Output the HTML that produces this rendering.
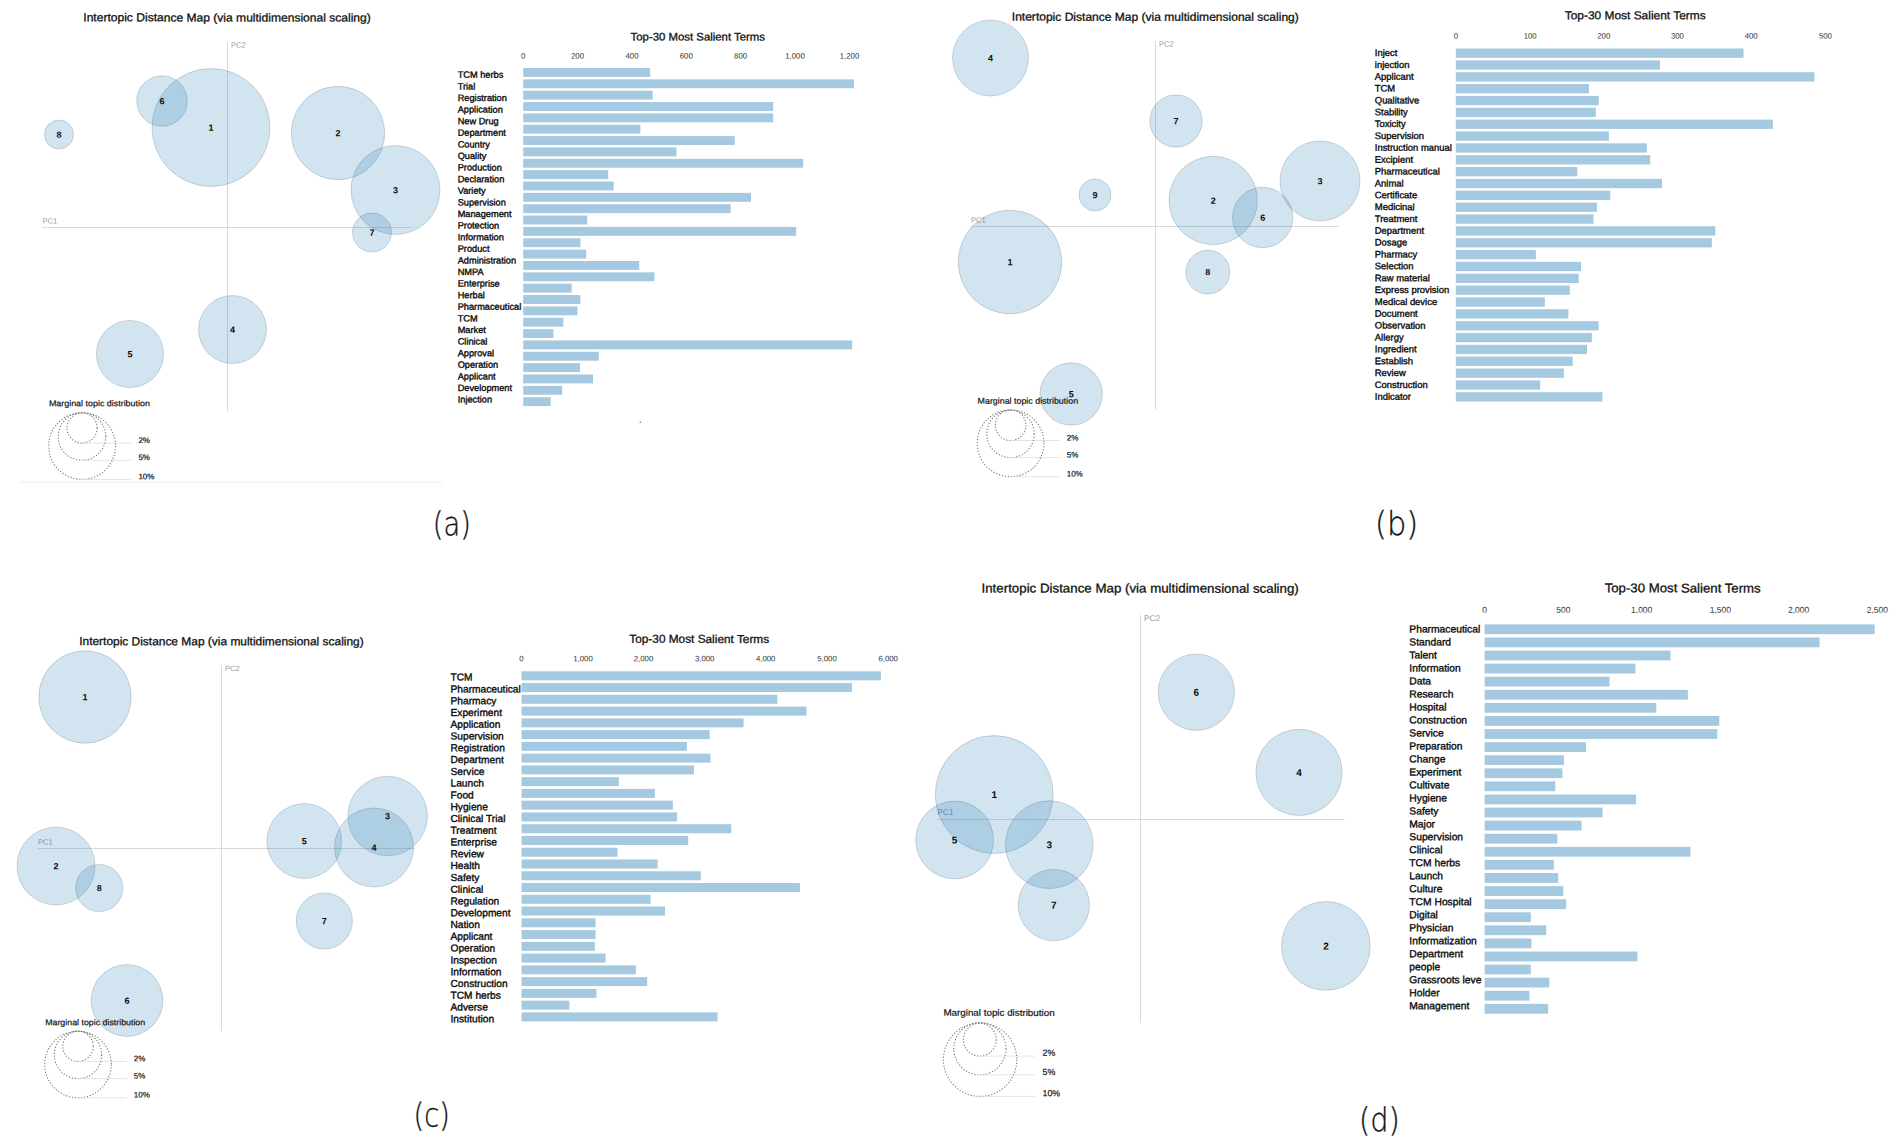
<!DOCTYPE html>
<html lang="en"><head><meta charset="utf-8"><title>Intertopic Distance Maps</title>
<style>
html,body{margin:0;padding:0;background:#fff;}
body{width:1902px;height:1147px;overflow:hidden;}
svg{display:block;font-family:"Liberation Sans",sans-serif;text-rendering:geometricPrecision;}
</style></head><body>
<svg width="1902" height="1147" viewBox="0 0 1902 1147">
<rect width="1902" height="1147" fill="#fff"/>
<g class="map">
<line x1="227.5" y1="42" x2="227.5" y2="411" stroke="#dadada" stroke-width="1"/>
<line x1="42" y1="227.5" x2="412" y2="227.5" stroke="#dadada" stroke-width="1"/>
<text transform="rotate(0.06 231.0 47.5)" x="231.0" y="47.5" font-size="7.6" fill="#9a9a9a">PC2</text>
<text transform="rotate(0.06 42.5 223.5)" x="42.5" y="223.5" font-size="7.6" fill="#9a9a9a">PC1</text>
<circle cx="211.0" cy="127.5" r="59.0" fill="#1f77b4" fill-opacity="0.2" stroke="#123" stroke-opacity="0.17" stroke-width="1"/>
<circle cx="162.0" cy="101.0" r="25.3" fill="#1f77b4" fill-opacity="0.2" stroke="#123" stroke-opacity="0.17" stroke-width="1"/>
<circle cx="59.0" cy="134.5" r="14.5" fill="#1f77b4" fill-opacity="0.2" stroke="#123" stroke-opacity="0.17" stroke-width="1"/>
<circle cx="338.0" cy="133.0" r="46.7" fill="#1f77b4" fill-opacity="0.2" stroke="#123" stroke-opacity="0.17" stroke-width="1"/>
<circle cx="395.5" cy="190.0" r="44.5" fill="#1f77b4" fill-opacity="0.2" stroke="#123" stroke-opacity="0.17" stroke-width="1"/>
<circle cx="372.0" cy="232.5" r="19.5" fill="#1f77b4" fill-opacity="0.2" stroke="#123" stroke-opacity="0.17" stroke-width="1"/>
<circle cx="232.5" cy="329.5" r="34.0" fill="#1f77b4" fill-opacity="0.2" stroke="#123" stroke-opacity="0.17" stroke-width="1"/>
<circle cx="130.0" cy="354.0" r="33.6" fill="#1f77b4" fill-opacity="0.2" stroke="#123" stroke-opacity="0.17" stroke-width="1"/>
<text transform="rotate(0.06 211.0 130.7)" x="211.0" y="130.7" font-size="9.0" text-anchor="middle" font-weight="bold" fill="#0b0b0b">1</text>
<text transform="rotate(0.06 162.0 104.2)" x="162.0" y="104.2" font-size="9.0" text-anchor="middle" font-weight="bold" fill="#0b0b0b">6</text>
<text transform="rotate(0.06 59.0 137.7)" x="59.0" y="137.7" font-size="9.0" text-anchor="middle" font-weight="bold" fill="#0b0b0b">8</text>
<text transform="rotate(0.06 338.0 136.2)" x="338.0" y="136.2" font-size="9.0" text-anchor="middle" font-weight="bold" fill="#0b0b0b">2</text>
<text transform="rotate(0.06 395.5 193.2)" x="395.5" y="193.2" font-size="9.0" text-anchor="middle" font-weight="bold" fill="#0b0b0b">3</text>
<text transform="rotate(0.06 372.0 235.7)" x="372.0" y="235.7" font-size="9.0" text-anchor="middle" font-weight="bold" fill="#0b0b0b">7</text>
<text transform="rotate(0.06 232.5 332.7)" x="232.5" y="332.7" font-size="9.0" text-anchor="middle" font-weight="bold" fill="#0b0b0b">4</text>
<text transform="rotate(0.06 130.0 357.2)" x="130.0" y="357.2" font-size="9.0" text-anchor="middle" font-weight="bold" fill="#0b0b0b">5</text>
<text transform="rotate(0.06 83.3 21.3)" x="83.3" y="21.3" font-size="11.5" textLength="287.5" lengthAdjust="spacingAndGlyphs" fill="#111" stroke="#111" stroke-width="0.3">Intertopic Distance Map (via multidimensional scaling)</text>
<text transform="rotate(0.06 48.9 406.2)" x="48.9" y="406.2" font-size="8.5" textLength="101.0" lengthAdjust="spacingAndGlyphs" fill="#111" stroke="#111" stroke-width="0.2">Marginal topic distribution</text>
<circle cx="82.1" cy="428.0" r="15.1" fill="none" stroke="#808080" stroke-width="1.1" stroke-dasharray="1.3,1.7"/>
<line x1="82.1" y1="443.1" x2="131.4" y2="443.1" stroke="#dcdcdc" stroke-width="0.8"/>
<text transform="rotate(0.06 138.4 442.9)" x="138.4" y="442.9" font-size="8" fill="#111" stroke="#111" stroke-width="0.2">2%</text>
<circle cx="82.0" cy="436.5" r="23.8" fill="none" stroke="#808080" stroke-width="1.1" stroke-dasharray="1.3,1.7"/>
<line x1="82.0" y1="460.3" x2="131.4" y2="460.3" stroke="#dcdcdc" stroke-width="0.8"/>
<text transform="rotate(0.06 138.4 460.1)" x="138.4" y="460.1" font-size="8" fill="#111" stroke="#111" stroke-width="0.2">5%</text>
<circle cx="82.1" cy="446.0" r="33.4" fill="none" stroke="#808080" stroke-width="1.1" stroke-dasharray="1.3,1.7"/>
<line x1="82.1" y1="479.4" x2="131.4" y2="479.4" stroke="#dcdcdc" stroke-width="0.8"/>
<text transform="rotate(0.06 138.4 479.3)" x="138.4" y="479.3" font-size="8" fill="#111" stroke="#111" stroke-width="0.2">10%</text>
</g>
<g class="map">
<line x1="1155.5" y1="41" x2="1155.5" y2="409.5" stroke="#dadada" stroke-width="1"/>
<line x1="970.5" y1="226.5" x2="1339" y2="226.5" stroke="#dadada" stroke-width="1"/>
<text transform="rotate(0.06 1159.0 46.5)" x="1159.0" y="46.5" font-size="7.6" fill="#9a9a9a">PC2</text>
<text transform="rotate(0.06 971.0 222.5)" x="971.0" y="222.5" font-size="7.6" fill="#9a9a9a">PC1</text>
<circle cx="990.5" cy="58.0" r="38.0" fill="#1f77b4" fill-opacity="0.2" stroke="#123" stroke-opacity="0.17" stroke-width="1"/>
<circle cx="1176.0" cy="121.0" r="26.2" fill="#1f77b4" fill-opacity="0.2" stroke="#123" stroke-opacity="0.17" stroke-width="1"/>
<circle cx="1095.0" cy="195.0" r="16.0" fill="#1f77b4" fill-opacity="0.2" stroke="#123" stroke-opacity="0.17" stroke-width="1"/>
<circle cx="1213.2" cy="200.5" r="44.2" fill="#1f77b4" fill-opacity="0.2" stroke="#123" stroke-opacity="0.17" stroke-width="1"/>
<circle cx="1262.7" cy="217.5" r="30.2" fill="#1f77b4" fill-opacity="0.2" stroke="#123" stroke-opacity="0.17" stroke-width="1"/>
<circle cx="1320.0" cy="181.0" r="40.0" fill="#1f77b4" fill-opacity="0.2" stroke="#123" stroke-opacity="0.17" stroke-width="1"/>
<circle cx="1010.0" cy="262.0" r="51.8" fill="#1f77b4" fill-opacity="0.2" stroke="#123" stroke-opacity="0.17" stroke-width="1"/>
<circle cx="1207.8" cy="272.1" r="22.0" fill="#1f77b4" fill-opacity="0.2" stroke="#123" stroke-opacity="0.17" stroke-width="1"/>
<circle cx="1071.2" cy="394.0" r="31.2" fill="#1f77b4" fill-opacity="0.2" stroke="#123" stroke-opacity="0.17" stroke-width="1"/>
<text transform="rotate(0.06 990.5 61.2)" x="990.5" y="61.2" font-size="9.0" text-anchor="middle" font-weight="bold" fill="#0b0b0b">4</text>
<text transform="rotate(0.06 1176.0 124.2)" x="1176.0" y="124.2" font-size="9.0" text-anchor="middle" font-weight="bold" fill="#0b0b0b">7</text>
<text transform="rotate(0.06 1095.0 198.2)" x="1095.0" y="198.2" font-size="9.0" text-anchor="middle" font-weight="bold" fill="#0b0b0b">9</text>
<text transform="rotate(0.06 1213.2 203.7)" x="1213.2" y="203.7" font-size="9.0" text-anchor="middle" font-weight="bold" fill="#0b0b0b">2</text>
<text transform="rotate(0.06 1262.7 220.7)" x="1262.7" y="220.7" font-size="9.0" text-anchor="middle" font-weight="bold" fill="#0b0b0b">6</text>
<text transform="rotate(0.06 1320.0 184.2)" x="1320.0" y="184.2" font-size="9.0" text-anchor="middle" font-weight="bold" fill="#0b0b0b">3</text>
<text transform="rotate(0.06 1010.0 265.2)" x="1010.0" y="265.2" font-size="9.0" text-anchor="middle" font-weight="bold" fill="#0b0b0b">1</text>
<text transform="rotate(0.06 1207.8 275.3)" x="1207.8" y="275.3" font-size="9.0" text-anchor="middle" font-weight="bold" fill="#0b0b0b">8</text>
<text transform="rotate(0.06 1071.2 397.2)" x="1071.2" y="397.2" font-size="9.0" text-anchor="middle" font-weight="bold" fill="#0b0b0b">5</text>
<text transform="rotate(0.06 1011.8 20.6)" x="1011.8" y="20.6" font-size="11.5" textLength="287.0" lengthAdjust="spacingAndGlyphs" fill="#111" stroke="#111" stroke-width="0.3">Intertopic Distance Map (via multidimensional scaling)</text>
<text transform="rotate(0.06 977.6 403.7)" x="977.6" y="403.7" font-size="8.5" textLength="100.5" lengthAdjust="spacingAndGlyphs" fill="#111" stroke="#111" stroke-width="0.2">Marginal topic distribution</text>
<circle cx="1010.6" cy="425.2" r="15.3" fill="none" stroke="#808080" stroke-width="1.1" stroke-dasharray="1.3,1.7"/>
<line x1="1010.6" y1="440.5" x2="1059.9" y2="440.5" stroke="#dcdcdc" stroke-width="0.8"/>
<text transform="rotate(0.06 1066.7 440.4)" x="1066.7" y="440.4" font-size="8" fill="#111" stroke="#111" stroke-width="0.2">2%</text>
<circle cx="1010.5" cy="433.9" r="23.7" fill="none" stroke="#808080" stroke-width="1.1" stroke-dasharray="1.3,1.7"/>
<line x1="1010.5" y1="457.6" x2="1059.9" y2="457.6" stroke="#dcdcdc" stroke-width="0.8"/>
<text transform="rotate(0.06 1066.7 457.5)" x="1066.7" y="457.5" font-size="8" fill="#111" stroke="#111" stroke-width="0.2">5%</text>
<circle cx="1010.6" cy="443.3" r="33.4" fill="none" stroke="#808080" stroke-width="1.1" stroke-dasharray="1.3,1.7"/>
<line x1="1010.6" y1="476.7" x2="1059.9" y2="476.7" stroke="#dcdcdc" stroke-width="0.8"/>
<text transform="rotate(0.06 1066.7 476.5)" x="1066.7" y="476.5" font-size="8" fill="#111" stroke="#111" stroke-width="0.2">10%</text>
</g>
<g class="map">
<line x1="221.5" y1="665.5" x2="221.5" y2="1030.8" stroke="#dadada" stroke-width="1"/>
<line x1="37.5" y1="848.5" x2="415" y2="848.5" stroke="#dadada" stroke-width="1"/>
<text transform="rotate(0.06 225.0 671.0)" x="225.0" y="671.0" font-size="7.6" fill="#9a9a9a">PC2</text>
<text transform="rotate(0.06 38.0 844.5)" x="38.0" y="844.5" font-size="7.6" fill="#9a9a9a">PC1</text>
<circle cx="85.0" cy="697.0" r="46.2" fill="#1f77b4" fill-opacity="0.2" stroke="#123" stroke-opacity="0.17" stroke-width="1"/>
<circle cx="56.0" cy="866.0" r="39.0" fill="#1f77b4" fill-opacity="0.2" stroke="#123" stroke-opacity="0.17" stroke-width="1"/>
<circle cx="99.3" cy="888.0" r="23.6" fill="#1f77b4" fill-opacity="0.2" stroke="#123" stroke-opacity="0.17" stroke-width="1"/>
<circle cx="304.3" cy="841.0" r="37.4" fill="#1f77b4" fill-opacity="0.2" stroke="#123" stroke-opacity="0.17" stroke-width="1"/>
<circle cx="387.6" cy="816.0" r="39.8" fill="#1f77b4" fill-opacity="0.2" stroke="#123" stroke-opacity="0.17" stroke-width="1"/>
<circle cx="374.0" cy="847.5" r="39.5" fill="#1f77b4" fill-opacity="0.2" stroke="#123" stroke-opacity="0.17" stroke-width="1"/>
<circle cx="324.3" cy="921.0" r="28.1" fill="#1f77b4" fill-opacity="0.2" stroke="#123" stroke-opacity="0.17" stroke-width="1"/>
<circle cx="127.0" cy="1000.5" r="35.9" fill="#1f77b4" fill-opacity="0.2" stroke="#123" stroke-opacity="0.17" stroke-width="1"/>
<text transform="rotate(0.06 85.0 700.2)" x="85.0" y="700.2" font-size="9.0" text-anchor="middle" font-weight="bold" fill="#0b0b0b">1</text>
<text transform="rotate(0.06 56.0 869.2)" x="56.0" y="869.2" font-size="9.0" text-anchor="middle" font-weight="bold" fill="#0b0b0b">2</text>
<text transform="rotate(0.06 99.3 891.2)" x="99.3" y="891.2" font-size="9.0" text-anchor="middle" font-weight="bold" fill="#0b0b0b">8</text>
<text transform="rotate(0.06 304.3 844.2)" x="304.3" y="844.2" font-size="9.0" text-anchor="middle" font-weight="bold" fill="#0b0b0b">5</text>
<text transform="rotate(0.06 387.6 819.2)" x="387.6" y="819.2" font-size="9.0" text-anchor="middle" font-weight="bold" fill="#0b0b0b">3</text>
<text transform="rotate(0.06 374.0 850.7)" x="374.0" y="850.7" font-size="9.0" text-anchor="middle" font-weight="bold" fill="#0b0b0b">4</text>
<text transform="rotate(0.06 324.3 924.2)" x="324.3" y="924.2" font-size="9.0" text-anchor="middle" font-weight="bold" fill="#0b0b0b">7</text>
<text transform="rotate(0.06 127.0 1003.7)" x="127.0" y="1003.7" font-size="9.0" text-anchor="middle" font-weight="bold" fill="#0b0b0b">6</text>
<text transform="rotate(0.06 79.2 645.1)" x="79.2" y="645.1" font-size="11.5" textLength="284.5" lengthAdjust="spacingAndGlyphs" fill="#111" stroke="#111" stroke-width="0.3">Intertopic Distance Map (via multidimensional scaling)</text>
<text transform="rotate(0.06 45.2 1025.2)" x="45.2" y="1025.2" font-size="8.5" textLength="100.0" lengthAdjust="spacingAndGlyphs" fill="#111" stroke="#111" stroke-width="0.2">Marginal topic distribution</text>
<circle cx="78.0" cy="1046.3" r="15.2" fill="none" stroke="#808080" stroke-width="1.1" stroke-dasharray="1.3,1.7"/>
<line x1="78.0" y1="1061.5" x2="126.7" y2="1061.5" stroke="#dcdcdc" stroke-width="0.8"/>
<text transform="rotate(0.06 133.8 1061.2)" x="133.8" y="1061.2" font-size="8" fill="#111" stroke="#111" stroke-width="0.2">2%</text>
<circle cx="78.0" cy="1054.9" r="23.7" fill="none" stroke="#808080" stroke-width="1.1" stroke-dasharray="1.3,1.7"/>
<line x1="78.0" y1="1078.6" x2="126.7" y2="1078.6" stroke="#dcdcdc" stroke-width="0.8"/>
<text transform="rotate(0.06 133.8 1078.4)" x="133.8" y="1078.4" font-size="8" fill="#111" stroke="#111" stroke-width="0.2">5%</text>
<circle cx="78.0" cy="1064.5" r="33.3" fill="none" stroke="#808080" stroke-width="1.1" stroke-dasharray="1.3,1.7"/>
<line x1="78.0" y1="1097.8" x2="126.7" y2="1097.8" stroke="#dcdcdc" stroke-width="0.8"/>
<text transform="rotate(0.06 133.8 1097.6)" x="133.8" y="1097.6" font-size="8" fill="#111" stroke="#111" stroke-width="0.2">10%</text>
</g>
<g class="map">
<line x1="1140.5" y1="615" x2="1140.5" y2="1022.7" stroke="#dadada" stroke-width="1"/>
<line x1="936.8" y1="819.5" x2="1344.3" y2="819.5" stroke="#dadada" stroke-width="1"/>
<text transform="rotate(0.06 1144.0 621.0)" x="1144.0" y="621.0" font-size="8.36" fill="#9a9a9a">PC2</text>
<text transform="rotate(0.06 937.3 815.1)" x="937.3" y="815.1" font-size="8.36" fill="#9a9a9a">PC1</text>
<circle cx="1196.3" cy="692.2" r="38.2" fill="#1f77b4" fill-opacity="0.2" stroke="#123" stroke-opacity="0.17" stroke-width="1"/>
<circle cx="1299.0" cy="772.4" r="43.1" fill="#1f77b4" fill-opacity="0.2" stroke="#123" stroke-opacity="0.17" stroke-width="1"/>
<circle cx="994.2" cy="794.5" r="58.9" fill="#1f77b4" fill-opacity="0.2" stroke="#123" stroke-opacity="0.17" stroke-width="1"/>
<circle cx="954.6" cy="840.0" r="38.9" fill="#1f77b4" fill-opacity="0.2" stroke="#123" stroke-opacity="0.17" stroke-width="1"/>
<circle cx="1049.3" cy="844.7" r="43.9" fill="#1f77b4" fill-opacity="0.2" stroke="#123" stroke-opacity="0.17" stroke-width="1"/>
<circle cx="1053.8" cy="905.1" r="35.7" fill="#1f77b4" fill-opacity="0.2" stroke="#123" stroke-opacity="0.17" stroke-width="1"/>
<circle cx="1325.9" cy="945.9" r="44.4" fill="#1f77b4" fill-opacity="0.2" stroke="#123" stroke-opacity="0.17" stroke-width="1"/>
<text transform="rotate(0.06 1196.3 695.7)" x="1196.3" y="695.7" font-size="9.9" text-anchor="middle" font-weight="bold" fill="#0b0b0b">6</text>
<text transform="rotate(0.06 1299.0 775.9)" x="1299.0" y="775.9" font-size="9.9" text-anchor="middle" font-weight="bold" fill="#0b0b0b">4</text>
<text transform="rotate(0.06 994.2 798.0)" x="994.2" y="798.0" font-size="9.9" text-anchor="middle" font-weight="bold" fill="#0b0b0b">1</text>
<text transform="rotate(0.06 954.6 843.5)" x="954.6" y="843.5" font-size="9.9" text-anchor="middle" font-weight="bold" fill="#0b0b0b">5</text>
<text transform="rotate(0.06 1049.3 848.2)" x="1049.3" y="848.2" font-size="9.9" text-anchor="middle" font-weight="bold" fill="#0b0b0b">3</text>
<text transform="rotate(0.06 1053.8 908.6)" x="1053.8" y="908.6" font-size="9.9" text-anchor="middle" font-weight="bold" fill="#0b0b0b">7</text>
<text transform="rotate(0.06 1325.9 949.4)" x="1325.9" y="949.4" font-size="9.9" text-anchor="middle" font-weight="bold" fill="#0b0b0b">2</text>
<text transform="rotate(0.06 981.5 592.4)" x="981.5" y="592.4" font-size="12.7" textLength="317.3" lengthAdjust="spacingAndGlyphs" fill="#111" stroke="#111" stroke-width="0.3">Intertopic Distance Map (via multidimensional scaling)</text>
<text transform="rotate(0.06 943.4 1015.8)" x="943.4" y="1015.8" font-size="9.3" textLength="111.2" lengthAdjust="spacingAndGlyphs" fill="#111" stroke="#111" stroke-width="0.2">Marginal topic distribution</text>
<circle cx="979.8" cy="1039.7" r="16.4" fill="none" stroke="#808080" stroke-width="1.1" stroke-dasharray="1.3,1.7"/>
<line x1="979.8" y1="1056.1" x2="1034.6" y2="1056.1" stroke="#dcdcdc" stroke-width="0.8"/>
<text transform="rotate(0.06 1042.5 1055.8)" x="1042.5" y="1055.8" font-size="8.8" fill="#111" stroke="#111" stroke-width="0.2">2%</text>
<circle cx="979.9" cy="1048.7" r="26.1" fill="none" stroke="#808080" stroke-width="1.1" stroke-dasharray="1.3,1.7"/>
<line x1="979.9" y1="1074.8" x2="1034.6" y2="1074.8" stroke="#dcdcdc" stroke-width="0.8"/>
<text transform="rotate(0.06 1042.5 1075.0)" x="1042.5" y="1075.0" font-size="8.8" fill="#111" stroke="#111" stroke-width="0.2">5%</text>
<circle cx="980.1" cy="1059.7" r="36.7" fill="none" stroke="#808080" stroke-width="1.1" stroke-dasharray="1.3,1.7"/>
<line x1="980.1" y1="1096.4" x2="1034.6" y2="1096.4" stroke="#dcdcdc" stroke-width="0.8"/>
<text transform="rotate(0.06 1042.5 1096.2)" x="1042.5" y="1096.2" font-size="8.8" fill="#111" stroke="#111" stroke-width="0.2">10%</text>
</g>
<g class="bars">
<rect x="523.2" y="68.00" width="127.0" height="8.9" fill="#1f77b4" fill-opacity="0.4"/>
<rect x="523.2" y="79.35" width="330.8" height="8.9" fill="#1f77b4" fill-opacity="0.4"/>
<rect x="523.2" y="90.70" width="129.5" height="8.9" fill="#1f77b4" fill-opacity="0.4"/>
<rect x="523.2" y="102.06" width="250.0" height="8.9" fill="#1f77b4" fill-opacity="0.4"/>
<rect x="523.2" y="113.41" width="250.0" height="8.9" fill="#1f77b4" fill-opacity="0.4"/>
<rect x="523.2" y="124.76" width="117.2" height="8.9" fill="#1f77b4" fill-opacity="0.4"/>
<rect x="523.2" y="136.11" width="211.5" height="8.9" fill="#1f77b4" fill-opacity="0.4"/>
<rect x="523.2" y="147.46" width="153.2" height="8.9" fill="#1f77b4" fill-opacity="0.4"/>
<rect x="523.2" y="158.82" width="280.0" height="8.9" fill="#1f77b4" fill-opacity="0.4"/>
<rect x="523.2" y="170.17" width="85.0" height="8.9" fill="#1f77b4" fill-opacity="0.4"/>
<rect x="523.2" y="181.52" width="90.5" height="8.9" fill="#1f77b4" fill-opacity="0.4"/>
<rect x="523.2" y="192.87" width="227.8" height="8.9" fill="#1f77b4" fill-opacity="0.4"/>
<rect x="523.2" y="204.22" width="207.5" height="8.9" fill="#1f77b4" fill-opacity="0.4"/>
<rect x="523.2" y="215.58" width="64.0" height="8.9" fill="#1f77b4" fill-opacity="0.4"/>
<rect x="523.2" y="226.93" width="273.0" height="8.9" fill="#1f77b4" fill-opacity="0.4"/>
<rect x="523.2" y="238.28" width="57.2" height="8.9" fill="#1f77b4" fill-opacity="0.4"/>
<rect x="523.2" y="249.63" width="63.0" height="8.9" fill="#1f77b4" fill-opacity="0.4"/>
<rect x="523.2" y="260.98" width="116.0" height="8.9" fill="#1f77b4" fill-opacity="0.4"/>
<rect x="523.2" y="272.34" width="131.2" height="8.9" fill="#1f77b4" fill-opacity="0.4"/>
<rect x="523.2" y="283.69" width="48.5" height="8.9" fill="#1f77b4" fill-opacity="0.4"/>
<rect x="523.2" y="295.04" width="57.2" height="8.9" fill="#1f77b4" fill-opacity="0.4"/>
<rect x="523.2" y="306.39" width="54.2" height="8.9" fill="#1f77b4" fill-opacity="0.4"/>
<rect x="523.2" y="317.74" width="40.2" height="8.9" fill="#1f77b4" fill-opacity="0.4"/>
<rect x="523.2" y="329.10" width="30.2" height="8.9" fill="#1f77b4" fill-opacity="0.4"/>
<rect x="523.2" y="340.45" width="329.0" height="8.9" fill="#1f77b4" fill-opacity="0.4"/>
<rect x="523.2" y="351.80" width="75.5" height="8.9" fill="#1f77b4" fill-opacity="0.4"/>
<rect x="523.2" y="363.15" width="56.8" height="8.9" fill="#1f77b4" fill-opacity="0.4"/>
<rect x="523.2" y="374.50" width="69.8" height="8.9" fill="#1f77b4" fill-opacity="0.4"/>
<rect x="523.2" y="385.86" width="39.0" height="8.9" fill="#1f77b4" fill-opacity="0.4"/>
<rect x="523.2" y="397.21" width="27.5" height="8.9" fill="#1f77b4" fill-opacity="0.4"/>
<text transform="rotate(0.06 457.7 77.8)" x="457.7" y="77.8" font-size="9.2225" fill="#0a0a0a" stroke="#0a0a0a" stroke-width="0.35">TCM herbs</text>
<text transform="rotate(0.06 457.7 89.4)" x="457.7" y="89.4" font-size="9.2225" fill="#0a0a0a" stroke="#0a0a0a" stroke-width="0.35">Trial</text>
<text transform="rotate(0.06 457.7 101.0)" x="457.7" y="101.0" font-size="9.2225" fill="#0a0a0a" stroke="#0a0a0a" stroke-width="0.35">Registration</text>
<text transform="rotate(0.06 457.7 112.6)" x="457.7" y="112.6" font-size="9.2225" fill="#0a0a0a" stroke="#0a0a0a" stroke-width="0.35">Application</text>
<text transform="rotate(0.06 457.7 124.2)" x="457.7" y="124.2" font-size="9.2225" fill="#0a0a0a" stroke="#0a0a0a" stroke-width="0.35">New Drug</text>
<text transform="rotate(0.06 457.7 135.8)" x="457.7" y="135.8" font-size="9.2225" fill="#0a0a0a" stroke="#0a0a0a" stroke-width="0.35">Department</text>
<text transform="rotate(0.06 457.7 147.4)" x="457.7" y="147.4" font-size="9.2225" fill="#0a0a0a" stroke="#0a0a0a" stroke-width="0.35">Country</text>
<text transform="rotate(0.06 457.7 159.0)" x="457.7" y="159.0" font-size="9.2225" fill="#0a0a0a" stroke="#0a0a0a" stroke-width="0.35">Quality</text>
<text transform="rotate(0.06 457.7 170.6)" x="457.7" y="170.6" font-size="9.2225" fill="#0a0a0a" stroke="#0a0a0a" stroke-width="0.35">Production</text>
<text transform="rotate(0.06 457.7 182.2)" x="457.7" y="182.2" font-size="9.2225" fill="#0a0a0a" stroke="#0a0a0a" stroke-width="0.35">Declaration</text>
<text transform="rotate(0.06 457.7 193.8)" x="457.7" y="193.8" font-size="9.2225" fill="#0a0a0a" stroke="#0a0a0a" stroke-width="0.35">Variety</text>
<text transform="rotate(0.06 457.7 205.4)" x="457.7" y="205.4" font-size="9.2225" fill="#0a0a0a" stroke="#0a0a0a" stroke-width="0.35">Supervision</text>
<text transform="rotate(0.06 457.7 217.0)" x="457.7" y="217.0" font-size="9.2225" fill="#0a0a0a" stroke="#0a0a0a" stroke-width="0.35">Management</text>
<text transform="rotate(0.06 457.7 228.6)" x="457.7" y="228.6" font-size="9.2225" fill="#0a0a0a" stroke="#0a0a0a" stroke-width="0.35">Protection</text>
<text transform="rotate(0.06 457.7 240.2)" x="457.7" y="240.2" font-size="9.2225" fill="#0a0a0a" stroke="#0a0a0a" stroke-width="0.35">Information</text>
<text transform="rotate(0.06 457.7 251.8)" x="457.7" y="251.8" font-size="9.2225" fill="#0a0a0a" stroke="#0a0a0a" stroke-width="0.35">Product</text>
<text transform="rotate(0.06 457.7 263.4)" x="457.7" y="263.4" font-size="9.2225" fill="#0a0a0a" stroke="#0a0a0a" stroke-width="0.35">Administration</text>
<text transform="rotate(0.06 457.7 275.0)" x="457.7" y="275.0" font-size="9.2225" fill="#0a0a0a" stroke="#0a0a0a" stroke-width="0.35">NMPA</text>
<text transform="rotate(0.06 457.7 286.6)" x="457.7" y="286.6" font-size="9.2225" fill="#0a0a0a" stroke="#0a0a0a" stroke-width="0.35">Enterprise</text>
<text transform="rotate(0.06 457.7 298.2)" x="457.7" y="298.2" font-size="9.2225" fill="#0a0a0a" stroke="#0a0a0a" stroke-width="0.35">Herbal</text>
<text transform="rotate(0.06 457.7 309.8)" x="457.7" y="309.8" font-size="9.2225" fill="#0a0a0a" stroke="#0a0a0a" stroke-width="0.35">Pharmaceutical</text>
<text transform="rotate(0.06 457.7 321.4)" x="457.7" y="321.4" font-size="9.2225" fill="#0a0a0a" stroke="#0a0a0a" stroke-width="0.35">TCM</text>
<text transform="rotate(0.06 457.7 333.0)" x="457.7" y="333.0" font-size="9.2225" fill="#0a0a0a" stroke="#0a0a0a" stroke-width="0.35">Market</text>
<text transform="rotate(0.06 457.7 344.6)" x="457.7" y="344.6" font-size="9.2225" fill="#0a0a0a" stroke="#0a0a0a" stroke-width="0.35">Clinical</text>
<text transform="rotate(0.06 457.7 356.2)" x="457.7" y="356.2" font-size="9.2225" fill="#0a0a0a" stroke="#0a0a0a" stroke-width="0.35">Approval</text>
<text transform="rotate(0.06 457.7 367.8)" x="457.7" y="367.8" font-size="9.2225" fill="#0a0a0a" stroke="#0a0a0a" stroke-width="0.35">Operation</text>
<text transform="rotate(0.06 457.7 379.4)" x="457.7" y="379.4" font-size="9.2225" fill="#0a0a0a" stroke="#0a0a0a" stroke-width="0.35">Applicant</text>
<text transform="rotate(0.06 457.7 391.0)" x="457.7" y="391.0" font-size="9.2225" fill="#0a0a0a" stroke="#0a0a0a" stroke-width="0.35">Development</text>
<text transform="rotate(0.06 457.7 402.6)" x="457.7" y="402.6" font-size="9.2225" fill="#0a0a0a" stroke="#0a0a0a" stroke-width="0.35">Injection</text>
<text transform="rotate(0.06 523.2 58.4)" x="523.2" y="58.4" font-size="7.8" text-anchor="middle" fill="#333">0</text>
<text transform="rotate(0.06 577.5 58.4)" x="577.5" y="58.4" font-size="7.8" text-anchor="middle" fill="#333">200</text>
<text transform="rotate(0.06 632.0 58.4)" x="632.0" y="58.4" font-size="7.8" text-anchor="middle" fill="#333">400</text>
<text transform="rotate(0.06 686.3 58.4)" x="686.3" y="58.4" font-size="7.8" text-anchor="middle" fill="#333">600</text>
<text transform="rotate(0.06 740.6 58.4)" x="740.6" y="58.4" font-size="7.8" text-anchor="middle" fill="#333">800</text>
<text transform="rotate(0.06 795.0 58.4)" x="795.0" y="58.4" font-size="7.8" text-anchor="middle" fill="#333">1,000</text>
<text transform="rotate(0.06 849.5 58.4)" x="849.5" y="58.4" font-size="7.8" text-anchor="middle" fill="#333">1,200</text>
<text transform="rotate(0.06 630.6 40.4)" x="630.6" y="40.4" font-size="11" textLength="134.4" lengthAdjust="spacingAndGlyphs" fill="#111" stroke="#111" stroke-width="0.3">Top-30 Most Salient Terms</text>
</g>
<g class="bars">
<rect x="1455.8" y="48.50" width="287.7" height="9.3" fill="#1f77b4" fill-opacity="0.4"/>
<rect x="1455.8" y="60.35" width="204.2" height="9.3" fill="#1f77b4" fill-opacity="0.4"/>
<rect x="1455.8" y="72.20" width="358.7" height="9.3" fill="#1f77b4" fill-opacity="0.4"/>
<rect x="1455.8" y="84.06" width="133.2" height="9.3" fill="#1f77b4" fill-opacity="0.4"/>
<rect x="1455.8" y="95.91" width="142.9" height="9.3" fill="#1f77b4" fill-opacity="0.4"/>
<rect x="1455.8" y="107.76" width="140.0" height="9.3" fill="#1f77b4" fill-opacity="0.4"/>
<rect x="1455.8" y="119.61" width="317.1" height="9.3" fill="#1f77b4" fill-opacity="0.4"/>
<rect x="1455.8" y="131.46" width="153.1" height="9.3" fill="#1f77b4" fill-opacity="0.4"/>
<rect x="1455.8" y="143.32" width="191.0" height="9.3" fill="#1f77b4" fill-opacity="0.4"/>
<rect x="1455.8" y="155.17" width="194.5" height="9.3" fill="#1f77b4" fill-opacity="0.4"/>
<rect x="1455.8" y="167.02" width="121.5" height="9.3" fill="#1f77b4" fill-opacity="0.4"/>
<rect x="1455.8" y="178.87" width="206.2" height="9.3" fill="#1f77b4" fill-opacity="0.4"/>
<rect x="1455.8" y="190.72" width="154.5" height="9.3" fill="#1f77b4" fill-opacity="0.4"/>
<rect x="1455.8" y="202.58" width="141.1" height="9.3" fill="#1f77b4" fill-opacity="0.4"/>
<rect x="1455.8" y="214.43" width="137.7" height="9.3" fill="#1f77b4" fill-opacity="0.4"/>
<rect x="1455.8" y="226.28" width="259.5" height="9.3" fill="#1f77b4" fill-opacity="0.4"/>
<rect x="1455.8" y="238.13" width="256.0" height="9.3" fill="#1f77b4" fill-opacity="0.4"/>
<rect x="1455.8" y="249.98" width="80.1" height="9.3" fill="#1f77b4" fill-opacity="0.4"/>
<rect x="1455.8" y="261.84" width="125.2" height="9.3" fill="#1f77b4" fill-opacity="0.4"/>
<rect x="1455.8" y="273.69" width="122.9" height="9.3" fill="#1f77b4" fill-opacity="0.4"/>
<rect x="1455.8" y="285.54" width="114.0" height="9.3" fill="#1f77b4" fill-opacity="0.4"/>
<rect x="1455.8" y="297.39" width="89.0" height="9.3" fill="#1f77b4" fill-opacity="0.4"/>
<rect x="1455.8" y="309.24" width="112.6" height="9.3" fill="#1f77b4" fill-opacity="0.4"/>
<rect x="1455.8" y="321.10" width="142.9" height="9.3" fill="#1f77b4" fill-opacity="0.4"/>
<rect x="1455.8" y="332.95" width="136.0" height="9.3" fill="#1f77b4" fill-opacity="0.4"/>
<rect x="1455.8" y="344.80" width="131.2" height="9.3" fill="#1f77b4" fill-opacity="0.4"/>
<rect x="1455.8" y="356.65" width="116.9" height="9.3" fill="#1f77b4" fill-opacity="0.4"/>
<rect x="1455.8" y="368.50" width="108.1" height="9.3" fill="#1f77b4" fill-opacity="0.4"/>
<rect x="1455.8" y="380.36" width="84.4" height="9.3" fill="#1f77b4" fill-opacity="0.4"/>
<rect x="1455.8" y="392.21" width="146.6" height="9.3" fill="#1f77b4" fill-opacity="0.4"/>
<text transform="rotate(0.06 1374.8 56.0)" x="1374.8" y="56.0" font-size="9.439499999999999" fill="#0a0a0a" stroke="#0a0a0a" stroke-width="0.35">Inject</text>
<text transform="rotate(0.06 1374.8 67.9)" x="1374.8" y="67.9" font-size="9.439499999999999" fill="#0a0a0a" stroke="#0a0a0a" stroke-width="0.35">injection</text>
<text transform="rotate(0.06 1374.8 79.7)" x="1374.8" y="79.7" font-size="9.439499999999999" fill="#0a0a0a" stroke="#0a0a0a" stroke-width="0.35">Applicant</text>
<text transform="rotate(0.06 1374.8 91.6)" x="1374.8" y="91.6" font-size="9.439499999999999" fill="#0a0a0a" stroke="#0a0a0a" stroke-width="0.35">TCM</text>
<text transform="rotate(0.06 1374.8 103.4)" x="1374.8" y="103.4" font-size="9.439499999999999" fill="#0a0a0a" stroke="#0a0a0a" stroke-width="0.35">Qualitative</text>
<text transform="rotate(0.06 1374.8 115.3)" x="1374.8" y="115.3" font-size="9.439499999999999" fill="#0a0a0a" stroke="#0a0a0a" stroke-width="0.35">Stability</text>
<text transform="rotate(0.06 1374.8 127.1)" x="1374.8" y="127.1" font-size="9.439499999999999" fill="#0a0a0a" stroke="#0a0a0a" stroke-width="0.35">Toxicity</text>
<text transform="rotate(0.06 1374.8 139.0)" x="1374.8" y="139.0" font-size="9.439499999999999" fill="#0a0a0a" stroke="#0a0a0a" stroke-width="0.35">Supervision</text>
<text transform="rotate(0.06 1374.8 150.8)" x="1374.8" y="150.8" font-size="9.439499999999999" fill="#0a0a0a" stroke="#0a0a0a" stroke-width="0.35">Instruction manual</text>
<text transform="rotate(0.06 1374.8 162.7)" x="1374.8" y="162.7" font-size="9.439499999999999" fill="#0a0a0a" stroke="#0a0a0a" stroke-width="0.35">Excipient</text>
<text transform="rotate(0.06 1374.8 174.5)" x="1374.8" y="174.5" font-size="9.439499999999999" fill="#0a0a0a" stroke="#0a0a0a" stroke-width="0.35">Pharmaceutical</text>
<text transform="rotate(0.06 1374.8 186.4)" x="1374.8" y="186.4" font-size="9.439499999999999" fill="#0a0a0a" stroke="#0a0a0a" stroke-width="0.35">Animal</text>
<text transform="rotate(0.06 1374.8 198.2)" x="1374.8" y="198.2" font-size="9.439499999999999" fill="#0a0a0a" stroke="#0a0a0a" stroke-width="0.35">Certificate</text>
<text transform="rotate(0.06 1374.8 210.1)" x="1374.8" y="210.1" font-size="9.439499999999999" fill="#0a0a0a" stroke="#0a0a0a" stroke-width="0.35">Medicinal</text>
<text transform="rotate(0.06 1374.8 221.9)" x="1374.8" y="221.9" font-size="9.439499999999999" fill="#0a0a0a" stroke="#0a0a0a" stroke-width="0.35">Treatment</text>
<text transform="rotate(0.06 1374.8 233.8)" x="1374.8" y="233.8" font-size="9.439499999999999" fill="#0a0a0a" stroke="#0a0a0a" stroke-width="0.35">Department</text>
<text transform="rotate(0.06 1374.8 245.6)" x="1374.8" y="245.6" font-size="9.439499999999999" fill="#0a0a0a" stroke="#0a0a0a" stroke-width="0.35">Dosage</text>
<text transform="rotate(0.06 1374.8 257.5)" x="1374.8" y="257.5" font-size="9.439499999999999" fill="#0a0a0a" stroke="#0a0a0a" stroke-width="0.35">Pharmacy</text>
<text transform="rotate(0.06 1374.8 269.3)" x="1374.8" y="269.3" font-size="9.439499999999999" fill="#0a0a0a" stroke="#0a0a0a" stroke-width="0.35">Selection</text>
<text transform="rotate(0.06 1374.8 281.2)" x="1374.8" y="281.2" font-size="9.439499999999999" fill="#0a0a0a" stroke="#0a0a0a" stroke-width="0.35">Raw material</text>
<text transform="rotate(0.06 1374.8 293.0)" x="1374.8" y="293.0" font-size="9.439499999999999" fill="#0a0a0a" stroke="#0a0a0a" stroke-width="0.35">Express provision</text>
<text transform="rotate(0.06 1374.8 304.9)" x="1374.8" y="304.9" font-size="9.439499999999999" fill="#0a0a0a" stroke="#0a0a0a" stroke-width="0.35">Medical device</text>
<text transform="rotate(0.06 1374.8 316.7)" x="1374.8" y="316.7" font-size="9.439499999999999" fill="#0a0a0a" stroke="#0a0a0a" stroke-width="0.35">Document</text>
<text transform="rotate(0.06 1374.8 328.6)" x="1374.8" y="328.6" font-size="9.439499999999999" fill="#0a0a0a" stroke="#0a0a0a" stroke-width="0.35">Observation</text>
<text transform="rotate(0.06 1374.8 340.4)" x="1374.8" y="340.4" font-size="9.439499999999999" fill="#0a0a0a" stroke="#0a0a0a" stroke-width="0.35">Allergy</text>
<text transform="rotate(0.06 1374.8 352.3)" x="1374.8" y="352.3" font-size="9.439499999999999" fill="#0a0a0a" stroke="#0a0a0a" stroke-width="0.35">Ingredient</text>
<text transform="rotate(0.06 1374.8 364.2)" x="1374.8" y="364.2" font-size="9.439499999999999" fill="#0a0a0a" stroke="#0a0a0a" stroke-width="0.35">Establish</text>
<text transform="rotate(0.06 1374.8 376.0)" x="1374.8" y="376.0" font-size="9.439499999999999" fill="#0a0a0a" stroke="#0a0a0a" stroke-width="0.35">Review</text>
<text transform="rotate(0.06 1374.8 387.9)" x="1374.8" y="387.9" font-size="9.439499999999999" fill="#0a0a0a" stroke="#0a0a0a" stroke-width="0.35">Construction</text>
<text transform="rotate(0.06 1374.8 399.7)" x="1374.8" y="399.7" font-size="9.439499999999999" fill="#0a0a0a" stroke="#0a0a0a" stroke-width="0.35">Indicator</text>
<text transform="rotate(0.06 1455.8 38.4)" x="1455.8" y="38.4" font-size="7.8" text-anchor="middle" fill="#333">0</text>
<text transform="rotate(0.06 1530.2 38.4)" x="1530.2" y="38.4" font-size="7.8" text-anchor="middle" fill="#333">100</text>
<text transform="rotate(0.06 1603.8 38.4)" x="1603.8" y="38.4" font-size="7.8" text-anchor="middle" fill="#333">200</text>
<text transform="rotate(0.06 1677.4 38.4)" x="1677.4" y="38.4" font-size="7.8" text-anchor="middle" fill="#333">300</text>
<text transform="rotate(0.06 1751.2 38.4)" x="1751.2" y="38.4" font-size="7.8" text-anchor="middle" fill="#333">400</text>
<text transform="rotate(0.06 1825.4 38.4)" x="1825.4" y="38.4" font-size="7.8" text-anchor="middle" fill="#333">500</text>
<text transform="rotate(0.06 1564.7 19.2)" x="1564.7" y="19.2" font-size="11.5" textLength="141.0" lengthAdjust="spacingAndGlyphs" fill="#111" stroke="#111" stroke-width="0.3">Top-30 Most Salient Terms</text>
</g>
<g class="bars">
<rect x="521.5" y="671.30" width="359.4" height="9" fill="#1f77b4" fill-opacity="0.4"/>
<rect x="521.5" y="683.06" width="330.4" height="9" fill="#1f77b4" fill-opacity="0.4"/>
<rect x="521.5" y="694.82" width="255.8" height="9" fill="#1f77b4" fill-opacity="0.4"/>
<rect x="521.5" y="706.59" width="285.0" height="9" fill="#1f77b4" fill-opacity="0.4"/>
<rect x="521.5" y="718.35" width="222.1" height="9" fill="#1f77b4" fill-opacity="0.4"/>
<rect x="521.5" y="730.11" width="188.2" height="9" fill="#1f77b4" fill-opacity="0.4"/>
<rect x="521.5" y="741.87" width="165.4" height="9" fill="#1f77b4" fill-opacity="0.4"/>
<rect x="521.5" y="753.63" width="189.0" height="9" fill="#1f77b4" fill-opacity="0.4"/>
<rect x="521.5" y="765.40" width="172.5" height="9" fill="#1f77b4" fill-opacity="0.4"/>
<rect x="521.5" y="777.16" width="97.3" height="9" fill="#1f77b4" fill-opacity="0.4"/>
<rect x="521.5" y="788.92" width="133.3" height="9" fill="#1f77b4" fill-opacity="0.4"/>
<rect x="521.5" y="800.68" width="151.4" height="9" fill="#1f77b4" fill-opacity="0.4"/>
<rect x="521.5" y="812.44" width="155.6" height="9" fill="#1f77b4" fill-opacity="0.4"/>
<rect x="521.5" y="824.21" width="209.8" height="9" fill="#1f77b4" fill-opacity="0.4"/>
<rect x="521.5" y="835.97" width="166.7" height="9" fill="#1f77b4" fill-opacity="0.4"/>
<rect x="521.5" y="847.73" width="96.0" height="9" fill="#1f77b4" fill-opacity="0.4"/>
<rect x="521.5" y="859.49" width="136.2" height="9" fill="#1f77b4" fill-opacity="0.4"/>
<rect x="521.5" y="871.25" width="179.3" height="9" fill="#1f77b4" fill-opacity="0.4"/>
<rect x="521.5" y="883.02" width="278.4" height="9" fill="#1f77b4" fill-opacity="0.4"/>
<rect x="521.5" y="894.78" width="129.1" height="9" fill="#1f77b4" fill-opacity="0.4"/>
<rect x="521.5" y="906.54" width="143.5" height="9" fill="#1f77b4" fill-opacity="0.4"/>
<rect x="521.5" y="918.30" width="74.1" height="9" fill="#1f77b4" fill-opacity="0.4"/>
<rect x="521.5" y="930.06" width="74.1" height="9" fill="#1f77b4" fill-opacity="0.4"/>
<rect x="521.5" y="941.83" width="73.3" height="9" fill="#1f77b4" fill-opacity="0.4"/>
<rect x="521.5" y="953.59" width="84.1" height="9" fill="#1f77b4" fill-opacity="0.4"/>
<rect x="521.5" y="965.35" width="114.4" height="9" fill="#1f77b4" fill-opacity="0.4"/>
<rect x="521.5" y="977.11" width="125.7" height="9" fill="#1f77b4" fill-opacity="0.4"/>
<rect x="521.5" y="988.87" width="74.9" height="9" fill="#1f77b4" fill-opacity="0.4"/>
<rect x="521.5" y="1000.64" width="47.8" height="9" fill="#1f77b4" fill-opacity="0.4"/>
<rect x="521.5" y="1012.40" width="196.1" height="9" fill="#1f77b4" fill-opacity="0.4"/>
<text transform="rotate(0.06 450.5 680.6)" x="450.5" y="680.6" font-size="10.199" fill="#0a0a0a" stroke="#0a0a0a" stroke-width="0.35">TCM</text>
<text transform="rotate(0.06 450.5 692.4)" x="450.5" y="692.4" font-size="10.199" fill="#0a0a0a" stroke="#0a0a0a" stroke-width="0.35">Pharmaceutical</text>
<text transform="rotate(0.06 450.5 704.2)" x="450.5" y="704.2" font-size="10.199" fill="#0a0a0a" stroke="#0a0a0a" stroke-width="0.35">Pharmacy</text>
<text transform="rotate(0.06 450.5 715.9)" x="450.5" y="715.9" font-size="10.199" fill="#0a0a0a" stroke="#0a0a0a" stroke-width="0.35">Experiment</text>
<text transform="rotate(0.06 450.5 727.7)" x="450.5" y="727.7" font-size="10.199" fill="#0a0a0a" stroke="#0a0a0a" stroke-width="0.35">Application</text>
<text transform="rotate(0.06 450.5 739.5)" x="450.5" y="739.5" font-size="10.199" fill="#0a0a0a" stroke="#0a0a0a" stroke-width="0.35">Supervision</text>
<text transform="rotate(0.06 450.5 751.3)" x="450.5" y="751.3" font-size="10.199" fill="#0a0a0a" stroke="#0a0a0a" stroke-width="0.35">Registration</text>
<text transform="rotate(0.06 450.5 763.1)" x="450.5" y="763.1" font-size="10.199" fill="#0a0a0a" stroke="#0a0a0a" stroke-width="0.35">Department</text>
<text transform="rotate(0.06 450.5 774.9)" x="450.5" y="774.9" font-size="10.199" fill="#0a0a0a" stroke="#0a0a0a" stroke-width="0.35">Service</text>
<text transform="rotate(0.06 450.5 786.6)" x="450.5" y="786.6" font-size="10.199" fill="#0a0a0a" stroke="#0a0a0a" stroke-width="0.35">Launch</text>
<text transform="rotate(0.06 450.5 798.4)" x="450.5" y="798.4" font-size="10.199" fill="#0a0a0a" stroke="#0a0a0a" stroke-width="0.35">Food</text>
<text transform="rotate(0.06 450.5 810.2)" x="450.5" y="810.2" font-size="10.199" fill="#0a0a0a" stroke="#0a0a0a" stroke-width="0.35">Hygiene</text>
<text transform="rotate(0.06 450.5 822.0)" x="450.5" y="822.0" font-size="10.199" fill="#0a0a0a" stroke="#0a0a0a" stroke-width="0.35">Clinical Trial</text>
<text transform="rotate(0.06 450.5 833.8)" x="450.5" y="833.8" font-size="10.199" fill="#0a0a0a" stroke="#0a0a0a" stroke-width="0.35">Treatment</text>
<text transform="rotate(0.06 450.5 845.5)" x="450.5" y="845.5" font-size="10.199" fill="#0a0a0a" stroke="#0a0a0a" stroke-width="0.35">Enterprise</text>
<text transform="rotate(0.06 450.5 857.3)" x="450.5" y="857.3" font-size="10.199" fill="#0a0a0a" stroke="#0a0a0a" stroke-width="0.35">Review</text>
<text transform="rotate(0.06 450.5 869.1)" x="450.5" y="869.1" font-size="10.199" fill="#0a0a0a" stroke="#0a0a0a" stroke-width="0.35">Health</text>
<text transform="rotate(0.06 450.5 880.9)" x="450.5" y="880.9" font-size="10.199" fill="#0a0a0a" stroke="#0a0a0a" stroke-width="0.35">Safety</text>
<text transform="rotate(0.06 450.5 892.7)" x="450.5" y="892.7" font-size="10.199" fill="#0a0a0a" stroke="#0a0a0a" stroke-width="0.35">Clinical</text>
<text transform="rotate(0.06 450.5 904.5)" x="450.5" y="904.5" font-size="10.199" fill="#0a0a0a" stroke="#0a0a0a" stroke-width="0.35">Regulation</text>
<text transform="rotate(0.06 450.5 916.2)" x="450.5" y="916.2" font-size="10.199" fill="#0a0a0a" stroke="#0a0a0a" stroke-width="0.35">Development</text>
<text transform="rotate(0.06 450.5 928.0)" x="450.5" y="928.0" font-size="10.199" fill="#0a0a0a" stroke="#0a0a0a" stroke-width="0.35">Nation</text>
<text transform="rotate(0.06 450.5 939.8)" x="450.5" y="939.8" font-size="10.199" fill="#0a0a0a" stroke="#0a0a0a" stroke-width="0.35">Applicant</text>
<text transform="rotate(0.06 450.5 951.6)" x="450.5" y="951.6" font-size="10.199" fill="#0a0a0a" stroke="#0a0a0a" stroke-width="0.35">Operation</text>
<text transform="rotate(0.06 450.5 963.4)" x="450.5" y="963.4" font-size="10.199" fill="#0a0a0a" stroke="#0a0a0a" stroke-width="0.35">Inspection</text>
<text transform="rotate(0.06 450.5 975.2)" x="450.5" y="975.2" font-size="10.199" fill="#0a0a0a" stroke="#0a0a0a" stroke-width="0.35">Information</text>
<text transform="rotate(0.06 450.5 986.9)" x="450.5" y="986.9" font-size="10.199" fill="#0a0a0a" stroke="#0a0a0a" stroke-width="0.35">Construction</text>
<text transform="rotate(0.06 450.5 998.7)" x="450.5" y="998.7" font-size="10.199" fill="#0a0a0a" stroke="#0a0a0a" stroke-width="0.35">TCM herbs</text>
<text transform="rotate(0.06 450.5 1010.5)" x="450.5" y="1010.5" font-size="10.199" fill="#0a0a0a" stroke="#0a0a0a" stroke-width="0.35">Adverse</text>
<text transform="rotate(0.06 450.5 1022.3)" x="450.5" y="1022.3" font-size="10.199" fill="#0a0a0a" stroke="#0a0a0a" stroke-width="0.35">Institution</text>
<text transform="rotate(0.06 521.5 661.2)" x="521.5" y="661.2" font-size="7.8" text-anchor="middle" fill="#333">0</text>
<text transform="rotate(0.06 583.0 661.2)" x="583.0" y="661.2" font-size="7.8" text-anchor="middle" fill="#333">1,000</text>
<text transform="rotate(0.06 643.5 661.2)" x="643.5" y="661.2" font-size="7.8" text-anchor="middle" fill="#333">2,000</text>
<text transform="rotate(0.06 704.7 661.2)" x="704.7" y="661.2" font-size="7.8" text-anchor="middle" fill="#333">3,000</text>
<text transform="rotate(0.06 765.7 661.2)" x="765.7" y="661.2" font-size="7.8" text-anchor="middle" fill="#333">4,000</text>
<text transform="rotate(0.06 827.0 661.2)" x="827.0" y="661.2" font-size="7.8" text-anchor="middle" fill="#333">5,000</text>
<text transform="rotate(0.06 888.2 661.2)" x="888.2" y="661.2" font-size="7.8" text-anchor="middle" fill="#333">6,000</text>
<text transform="rotate(0.06 629.3 642.8)" x="629.3" y="642.8" font-size="11.5" textLength="139.8" lengthAdjust="spacingAndGlyphs" fill="#111" stroke="#111" stroke-width="0.3">Top-30 Most Salient Terms</text>
</g>
<g class="bars">
<rect x="1484.6" y="624.40" width="390.1" height="9.8" fill="#1f77b4" fill-opacity="0.4"/>
<rect x="1484.6" y="637.49" width="335.0" height="9.8" fill="#1f77b4" fill-opacity="0.4"/>
<rect x="1484.6" y="650.57" width="185.9" height="9.8" fill="#1f77b4" fill-opacity="0.4"/>
<rect x="1484.6" y="663.66" width="150.8" height="9.8" fill="#1f77b4" fill-opacity="0.4"/>
<rect x="1484.6" y="676.74" width="124.9" height="9.8" fill="#1f77b4" fill-opacity="0.4"/>
<rect x="1484.6" y="689.83" width="203.3" height="9.8" fill="#1f77b4" fill-opacity="0.4"/>
<rect x="1484.6" y="702.92" width="171.7" height="9.8" fill="#1f77b4" fill-opacity="0.4"/>
<rect x="1484.6" y="716.00" width="234.7" height="9.8" fill="#1f77b4" fill-opacity="0.4"/>
<rect x="1484.6" y="729.09" width="232.7" height="9.8" fill="#1f77b4" fill-opacity="0.4"/>
<rect x="1484.6" y="742.17" width="101.5" height="9.8" fill="#1f77b4" fill-opacity="0.4"/>
<rect x="1484.6" y="755.26" width="79.3" height="9.8" fill="#1f77b4" fill-opacity="0.4"/>
<rect x="1484.6" y="768.35" width="77.8" height="9.8" fill="#1f77b4" fill-opacity="0.4"/>
<rect x="1484.6" y="781.43" width="70.7" height="9.8" fill="#1f77b4" fill-opacity="0.4"/>
<rect x="1484.6" y="794.52" width="151.4" height="9.8" fill="#1f77b4" fill-opacity="0.4"/>
<rect x="1484.6" y="807.60" width="118.0" height="9.8" fill="#1f77b4" fill-opacity="0.4"/>
<rect x="1484.6" y="820.69" width="96.9" height="9.8" fill="#1f77b4" fill-opacity="0.4"/>
<rect x="1484.6" y="833.78" width="72.7" height="9.8" fill="#1f77b4" fill-opacity="0.4"/>
<rect x="1484.6" y="846.86" width="205.9" height="9.8" fill="#1f77b4" fill-opacity="0.4"/>
<rect x="1484.6" y="859.95" width="69.3" height="9.8" fill="#1f77b4" fill-opacity="0.4"/>
<rect x="1484.6" y="873.03" width="73.6" height="9.8" fill="#1f77b4" fill-opacity="0.4"/>
<rect x="1484.6" y="886.12" width="78.7" height="9.8" fill="#1f77b4" fill-opacity="0.4"/>
<rect x="1484.6" y="899.21" width="81.6" height="9.8" fill="#1f77b4" fill-opacity="0.4"/>
<rect x="1484.6" y="912.29" width="46.2" height="9.8" fill="#1f77b4" fill-opacity="0.4"/>
<rect x="1484.6" y="925.38" width="61.6" height="9.8" fill="#1f77b4" fill-opacity="0.4"/>
<rect x="1484.6" y="938.46" width="46.8" height="9.8" fill="#1f77b4" fill-opacity="0.4"/>
<rect x="1484.6" y="951.55" width="152.8" height="9.8" fill="#1f77b4" fill-opacity="0.4"/>
<rect x="1484.6" y="964.64" width="46.2" height="9.8" fill="#1f77b4" fill-opacity="0.4"/>
<rect x="1484.6" y="977.72" width="64.7" height="9.8" fill="#1f77b4" fill-opacity="0.4"/>
<rect x="1484.6" y="990.81" width="44.8" height="9.8" fill="#1f77b4" fill-opacity="0.4"/>
<rect x="1484.6" y="1003.89" width="63.6" height="9.8" fill="#1f77b4" fill-opacity="0.4"/>
<text transform="rotate(0.06 1409.3 632.5)" x="1409.3" y="632.5" font-size="10.3075" fill="#0a0a0a" stroke="#0a0a0a" stroke-width="0.35">Pharmaceutical</text>
<text transform="rotate(0.06 1409.3 645.5)" x="1409.3" y="645.5" font-size="10.3075" fill="#0a0a0a" stroke="#0a0a0a" stroke-width="0.35">Standard</text>
<text transform="rotate(0.06 1409.3 658.5)" x="1409.3" y="658.5" font-size="10.3075" fill="#0a0a0a" stroke="#0a0a0a" stroke-width="0.35">Talent</text>
<text transform="rotate(0.06 1409.3 671.5)" x="1409.3" y="671.5" font-size="10.3075" fill="#0a0a0a" stroke="#0a0a0a" stroke-width="0.35">Information</text>
<text transform="rotate(0.06 1409.3 684.5)" x="1409.3" y="684.5" font-size="10.3075" fill="#0a0a0a" stroke="#0a0a0a" stroke-width="0.35">Data</text>
<text transform="rotate(0.06 1409.3 697.5)" x="1409.3" y="697.5" font-size="10.3075" fill="#0a0a0a" stroke="#0a0a0a" stroke-width="0.35">Research</text>
<text transform="rotate(0.06 1409.3 710.4)" x="1409.3" y="710.4" font-size="10.3075" fill="#0a0a0a" stroke="#0a0a0a" stroke-width="0.35">Hospital</text>
<text transform="rotate(0.06 1409.3 723.4)" x="1409.3" y="723.4" font-size="10.3075" fill="#0a0a0a" stroke="#0a0a0a" stroke-width="0.35">Construction</text>
<text transform="rotate(0.06 1409.3 736.4)" x="1409.3" y="736.4" font-size="10.3075" fill="#0a0a0a" stroke="#0a0a0a" stroke-width="0.35">Service</text>
<text transform="rotate(0.06 1409.3 749.4)" x="1409.3" y="749.4" font-size="10.3075" fill="#0a0a0a" stroke="#0a0a0a" stroke-width="0.35">Preparation</text>
<text transform="rotate(0.06 1409.3 762.4)" x="1409.3" y="762.4" font-size="10.3075" fill="#0a0a0a" stroke="#0a0a0a" stroke-width="0.35">Change</text>
<text transform="rotate(0.06 1409.3 775.4)" x="1409.3" y="775.4" font-size="10.3075" fill="#0a0a0a" stroke="#0a0a0a" stroke-width="0.35">Experiment</text>
<text transform="rotate(0.06 1409.3 788.4)" x="1409.3" y="788.4" font-size="10.3075" fill="#0a0a0a" stroke="#0a0a0a" stroke-width="0.35">Cultivate</text>
<text transform="rotate(0.06 1409.3 801.4)" x="1409.3" y="801.4" font-size="10.3075" fill="#0a0a0a" stroke="#0a0a0a" stroke-width="0.35">Hygiene</text>
<text transform="rotate(0.06 1409.3 814.4)" x="1409.3" y="814.4" font-size="10.3075" fill="#0a0a0a" stroke="#0a0a0a" stroke-width="0.35">Safety</text>
<text transform="rotate(0.06 1409.3 827.4)" x="1409.3" y="827.4" font-size="10.3075" fill="#0a0a0a" stroke="#0a0a0a" stroke-width="0.35">Major</text>
<text transform="rotate(0.06 1409.3 840.3)" x="1409.3" y="840.3" font-size="10.3075" fill="#0a0a0a" stroke="#0a0a0a" stroke-width="0.35">Supervision</text>
<text transform="rotate(0.06 1409.3 853.3)" x="1409.3" y="853.3" font-size="10.3075" fill="#0a0a0a" stroke="#0a0a0a" stroke-width="0.35">Clinical</text>
<text transform="rotate(0.06 1409.3 866.3)" x="1409.3" y="866.3" font-size="10.3075" fill="#0a0a0a" stroke="#0a0a0a" stroke-width="0.35">TCM herbs</text>
<text transform="rotate(0.06 1409.3 879.3)" x="1409.3" y="879.3" font-size="10.3075" fill="#0a0a0a" stroke="#0a0a0a" stroke-width="0.35">Launch</text>
<text transform="rotate(0.06 1409.3 892.3)" x="1409.3" y="892.3" font-size="10.3075" fill="#0a0a0a" stroke="#0a0a0a" stroke-width="0.35">Culture</text>
<text transform="rotate(0.06 1409.3 905.3)" x="1409.3" y="905.3" font-size="10.3075" fill="#0a0a0a" stroke="#0a0a0a" stroke-width="0.35">TCM Hospital</text>
<text transform="rotate(0.06 1409.3 918.3)" x="1409.3" y="918.3" font-size="10.3075" fill="#0a0a0a" stroke="#0a0a0a" stroke-width="0.35">Digital</text>
<text transform="rotate(0.06 1409.3 931.3)" x="1409.3" y="931.3" font-size="10.3075" fill="#0a0a0a" stroke="#0a0a0a" stroke-width="0.35">Physician</text>
<text transform="rotate(0.06 1409.3 944.3)" x="1409.3" y="944.3" font-size="10.3075" fill="#0a0a0a" stroke="#0a0a0a" stroke-width="0.35">Informatization</text>
<text transform="rotate(0.06 1409.3 957.2)" x="1409.3" y="957.2" font-size="10.3075" fill="#0a0a0a" stroke="#0a0a0a" stroke-width="0.35">Department</text>
<text transform="rotate(0.06 1409.3 970.2)" x="1409.3" y="970.2" font-size="10.3075" fill="#0a0a0a" stroke="#0a0a0a" stroke-width="0.35">people</text>
<text transform="rotate(0.06 1409.3 983.2)" x="1409.3" y="983.2" font-size="10.3075" fill="#0a0a0a" stroke="#0a0a0a" stroke-width="0.35">Grassroots leve</text>
<text transform="rotate(0.06 1409.3 996.2)" x="1409.3" y="996.2" font-size="10.3075" fill="#0a0a0a" stroke="#0a0a0a" stroke-width="0.35">Holder</text>
<text transform="rotate(0.06 1409.3 1009.2)" x="1409.3" y="1009.2" font-size="10.3075" fill="#0a0a0a" stroke="#0a0a0a" stroke-width="0.35">Management</text>
<text transform="rotate(0.06 1484.6 612.8)" x="1484.6" y="612.8" font-size="8.5" text-anchor="middle" fill="#333">0</text>
<text transform="rotate(0.06 1563.3 612.8)" x="1563.3" y="612.8" font-size="8.5" text-anchor="middle" fill="#333">500</text>
<text transform="rotate(0.06 1641.7 612.8)" x="1641.7" y="612.8" font-size="8.5" text-anchor="middle" fill="#333">1,000</text>
<text transform="rotate(0.06 1720.4 612.8)" x="1720.4" y="612.8" font-size="8.5" text-anchor="middle" fill="#333">1,500</text>
<text transform="rotate(0.06 1798.6 612.8)" x="1798.6" y="612.8" font-size="8.5" text-anchor="middle" fill="#333">2,000</text>
<text transform="rotate(0.06 1877.3 612.8)" x="1877.3" y="612.8" font-size="8.5" text-anchor="middle" fill="#333">2,500</text>
<text transform="rotate(0.06 1604.7 592.3)" x="1604.7" y="592.3" font-size="12.7" textLength="156.0" lengthAdjust="spacingAndGlyphs" fill="#111" stroke="#111" stroke-width="0.3">Top-30 Most Salient Terms</text>
</g>
<line x1="20" y1="482" x2="442" y2="482" stroke="#ececec" stroke-width="1"/>
<circle cx="640.3" cy="422.2" r="0.7" fill="#666"/>
<text transform="rotate(0.06 432.8 535.3)" x="432.8" y="535.3" font-size="33" textLength="38.0" lengthAdjust="spacingAndGlyphs" font-family='"DejaVu Sans Light","DejaVu Sans",sans-serif' fill="#111" font-weight="200" stroke="#111" stroke-width="0.35">(a)</text>
<text transform="rotate(0.06 1375.1 535.1)" x="1375.1" y="535.1" font-size="33" textLength="43.0" lengthAdjust="spacingAndGlyphs" font-family='"DejaVu Sans Light","DejaVu Sans",sans-serif' fill="#111" font-weight="200" stroke="#111" stroke-width="0.35">(b)</text>
<text transform="rotate(0.06 413.6 1126.6)" x="413.6" y="1126.6" font-size="33" textLength="36.2" lengthAdjust="spacingAndGlyphs" font-family='"DejaVu Sans Light","DejaVu Sans",sans-serif' fill="#111" font-weight="200" stroke="#111" stroke-width="0.35">(c)</text>
<text transform="rotate(0.06 1359.0 1131.2)" x="1359.0" y="1131.2" font-size="33" textLength="40.8" lengthAdjust="spacingAndGlyphs" font-family='"DejaVu Sans Light","DejaVu Sans",sans-serif' fill="#111" font-weight="200" stroke="#111" stroke-width="0.35">(d)</text>
</svg>
</body></html>
